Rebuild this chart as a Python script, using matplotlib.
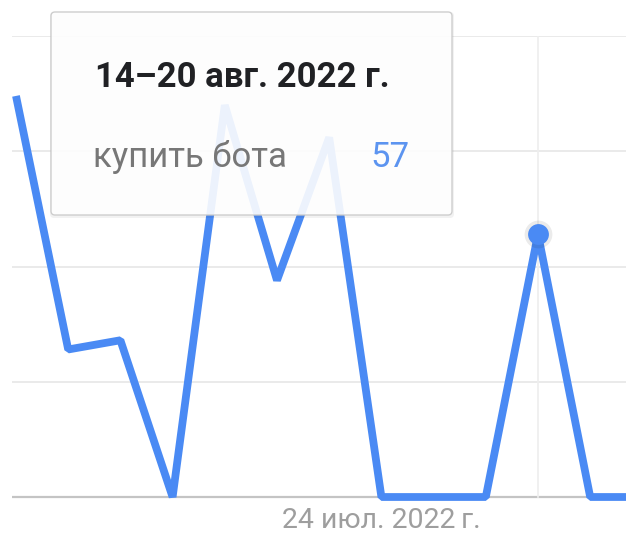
import matplotlib
matplotlib.use('Agg')
import matplotlib.pyplot as plt
from matplotlib.patches import FancyBboxPatch
from matplotlib.transforms import IdentityTransform

# weekly interest values, "купить бота"
weeks = list(range(13))
values = [87, 32, 34, 0, 85, 47, 78, 0, 0, 0, 57, 0, 0]
tick_pos = [7]
tick_labels = ['24 июл. 2022\u202fг.']
hover_idx = 10
tip_title = '14–20 авг. 2022\u202fг.'
tip_series = 'купить бота'

W, H = 626, 535
BLUE = '#4a8af4'

plt.rcParams['font.family'] = ['Roboto', 'DejaVu Sans']

fig = plt.figure(figsize=(W / 100, H / 100), dpi=100)

# axes box in pixels: left 12, top 36 (=100), bottom 500
ax = fig.add_axes([12 / W, (H - 500) / H, 1 - 12 / W, (500 - 36) / H])
ax.set_ylim(-0.65, 100)
ax.set_xlim((12 - 16) / 52.2, (626 - 16) / 52.2)
for s in ax.spines.values():
    s.set_visible(False)
ax.set_yticks([])

for g in [25, 50, 75, 100]:
    ax.axhline(g, color='#e6e6e6', lw=1.2, zorder=1)
ax.axhline(0, color='#c4c4c4', lw=1.6, zorder=1)
ax.plot([hover_idx, hover_idx], [0, 100], color='#eeeeee', lw=1.2, zorder=1)

ax.plot(weeks, values, color=BLUE, lw=5.6, solid_joinstyle='bevel',
        solid_capstyle='butt', zorder=3, clip_on=False)

# hover dot with soft halo
ax.plot([hover_idx], [values[hover_idx]], 'o', ms=20, color='#000000',
        alpha=0.08, mew=0, zorder=4)
ax.plot([hover_idx], [values[hover_idx]], 'o', ms=15, color=BLUE,
        mew=0, zorder=5)

ax.set_xticks(tick_pos)
ax.set_xticklabels(tick_labels, fontsize=20.5, color='#9e9e9e')
ax.tick_params(axis='x', length=0, pad=5)

# tooltip
def box(x0, y0, x1, y1, **kw):
    p = FancyBboxPatch((x0, H - y1), x1 - x0, y1 - y0,
                       boxstyle='round,pad=0,rounding_size=4',
                       transform=IdentityTransform(), **kw)
    fig.add_artist(p)

box(50, 12, 454, 218, facecolor='#000000', alpha=0.05, lw=0)
box(51, 12, 452, 215, facecolor='white', alpha=0.9,
    edgecolor='#c9c9c9', lw=1.0)

fig.text(95 / W, 1 - 87 / H, tip_title, fontsize=25, fontweight='bold',
         color='#202124', va='baseline', ha='left')
fig.text(93 / W, 1 - 167 / H, tip_series, fontsize=25, color='#777777',
         va='baseline', ha='left')
fig.text(410 / W, 1 - 167 / H, str(values[hover_idx]), fontsize=25,
         color='#5c94f0', va='baseline', ha='right')

fig.savefig('out.png', dpi=100)
